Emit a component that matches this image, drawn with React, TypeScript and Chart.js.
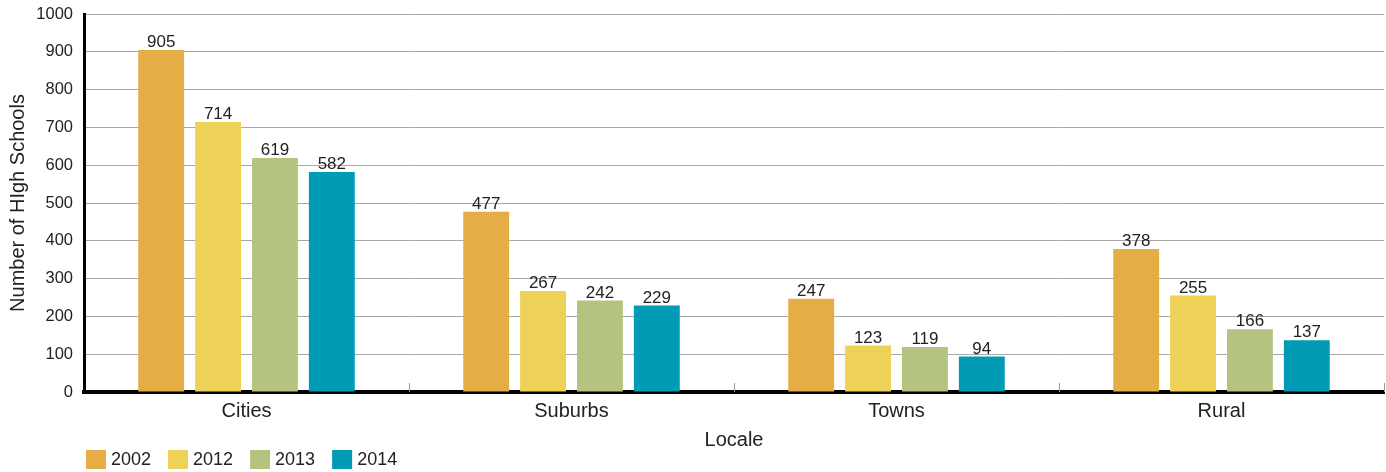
import React, { useEffect, useRef } from "react";
import { Chart, registerables } from "chart.js";

Chart.register(...registerables);

// Number of high schools by locale and year
const locales = ["Cities", "Suburbs", "Towns", "Rural"];
const years = ["2002", "2012", "2013", "2014"];
const values2002 = [905, 477, 247, 378];
const values2012 = [714, 267, 123, 255];
const values2013 = [619, 242, 119, 166];
const values2014 = [582, 229, 94, 137];
const yMin = 0;
const yMax = 1000;
const yStep = 100;

const seriesValues = [values2002, values2012, values2013, values2014];
const seriesColors = ["#E4AD46", "#EED258", "#B4C380", "#019BB5"];

const FONT = "'Liberation Sans', Arial, Helvetica, sans-serif";
const TEXT = "#222222";

// Value printed above every bar
const valueLabels = {
  id: "valueLabels",
  afterDatasetsDraw(chart: any) {
    const ctx = chart.ctx;
    ctx.save();
    ctx.font = `17px ${FONT}`;
    ctx.fillStyle = TEXT;
    ctx.textAlign = "center";
    ctx.textBaseline = "bottom";
    chart.data.datasets.forEach((ds: any, di: number) => {
      const meta = chart.getDatasetMeta(di);
      meta.data.forEach((bar: any, i: number) => {
        ctx.fillText(String(ds.data[i]), bar.x, bar.y + 1);
      });
    });
    ctx.restore();
  },
};

// Short gray marks between categories, rising from the x axis
const categoryDividers = {
  id: "categoryDividers",
  afterDatasetsDraw(chart: any) {
    const { ctx, chartArea } = chart;
    const x = chart.scales.x;
    const n = chart.data.labels.length;
    const half = (x.getPixelForTick(1) - x.getPixelForTick(0)) / 2;
    ctx.save();
    ctx.strokeStyle = "#9a9a9a";
    ctx.lineWidth = 1;
    for (let i = 0; i < n; i++) {
      const px = Math.round(x.getPixelForTick(i) + half) + 0.5;
      ctx.beginPath();
      ctx.moveTo(px, chartArea.bottom - 9);
      ctx.lineTo(px, chartArea.bottom);
      ctx.stroke();
    }
    ctx.restore();
  },
};

// Legend row along the bottom left
const yearLegend = {
  id: "yearLegend",
  afterDraw(chart: any) {
    const { ctx, chartArea } = chart;
    ctx.save();
    ctx.font = `18px ${FONT}`;
    ctx.textBaseline = "middle";
    ctx.textAlign = "left";
    let x = chartArea.left + 2;
    const top = 450;
    chart.data.datasets.forEach((ds: any) => {
      ctx.fillStyle = ds.backgroundColor;
      ctx.fillRect(x, top, 20, 19);
      ctx.fillStyle = TEXT;
      ctx.fillText(ds.label, x + 25, top + 10);
      x += 25 + ctx.measureText(ds.label).width + 17;
    });
    ctx.restore();
  },
};

export default function App() {
  const canvasRef = useRef<HTMLCanvasElement | null>(null);

  useEffect(() => {
    if (!canvasRef.current) return;
    const chart = new Chart(canvasRef.current, {
      type: "bar",
      data: {
        labels: locales,
        datasets: years.map((year, i) => ({
          label: year,
          data: seriesValues[i],
          backgroundColor: seriesColors[i],
          borderWidth: 0,
          categoryPercentage: 0.7,
          barPercentage: 0.807,
        })),
      },
      options: {
        responsive: false,
        animation: false,
        devicePixelRatio: 1,
        layout: { padding: { top: 14, right: 2, bottom: 20, left: 0 } },
        plugins: {
          legend: { display: false },
          tooltip: { enabled: false },
        },
        scales: {
          x: {
            grid: { display: false, drawTicks: false },
            border: { display: true, color: "#000000", width: 4 },
            ticks: {
              color: TEXT,
              font: { family: FONT, size: 20 },
              padding: 7,
            },
            title: {
              display: true,
              text: "Locale",
              color: TEXT,
              font: { family: FONT, size: 20 },
              padding: { top: 0, bottom: 0 },
            },
            afterFit(scale: any) {
              scale.height = 60;
            },
          },
          y: {
            min: yMin,
            max: yMax,
            ticks: {
              stepSize: yStep,
              color: TEXT,
              font: { family: FONT, size: 16.5 },
              padding: 11,
              callback: (v: any) => String(v),
            },
            grid: { color: "#a8a8a8", lineWidth: 1, drawTicks: false },
            border: { display: true, color: "#000000", width: 3 },
            title: {
              display: true,
              text: "Number of HIgh Schools",
              color: TEXT,
              font: { family: FONT, size: 20 },
              padding: { top: 6, bottom: 0 },
            },
            afterFit(scale: any) {
              scale.width = 84;
              scale.paddingTop = 0;
              scale.paddingBottom = 0;
            },
          },
        },
      },
      plugins: [valueLabels, categoryDividers, yearLegend],
    });
    return () => chart.destroy();
  }, []);

  return (
    <div
      style={{
        position: "fixed",
        left: 0,
        top: 0,
        width: 1386,
        height: 472,
        background: "#ffffff",
      }}
    >
      <canvas ref={canvasRef} width={1386} height={472} />
    </div>
  );
}
